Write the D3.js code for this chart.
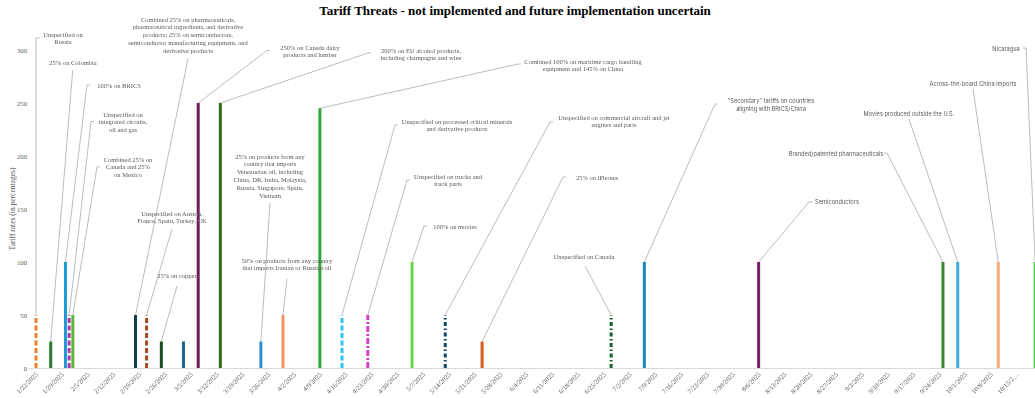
<!DOCTYPE html>
<html>
<head>
<meta charset="utf-8">
<script src="https://cdn.jsdelivr.net/npm/d3@7"></script>
<style>
  html, body { margin: 0; padding: 0; background: #fff; }
  svg { display: block; }
  .soft-text { opacity: 0.995; }
</style>
</head>
<body>
<svg id="chart" width="1035" height="398"></svg>
<script>
// Announcement date of each threatened tariff
const threatDates = [
  "2025-01-22", "2025-01-26", "2025-01-30", "2025-01-31", "2025-02-01",
  "2025-02-18", "2025-02-21", "2025-02-25", "2025-03-03", "2025-03-07",
  "2025-03-13", "2025-03-24", "2025-03-30", "2025-04-09", "2025-04-15",
  "2025-04-22", "2025-05-04", "2025-05-13", "2025-05-23", "2025-06-27",
  "2025-07-06", "2025-08-06", "2025-09-25", "2025-09-29", "2025-10-10",
  "2025-10-20"
];

// Threatened rate, in percent
const threatRates = [
  50, 25, 100, 50, 50,
  50, 50, 25, 25, 250,
  250, 25, 50, 245, 50,
  50, 100, 50, 25, 50,
  100, 100, 100, 100, 100,
  100
];

// Whether the rate was left unspecified (drawn dashed)
const threatUnspecified = [
  true, false, false, true, false,
  false, true, false, false, false,
  false, false, false, false, true,
  true, false, true, false, true,
  false, false, false, false, false,
  false
];

// Description of each threat, one entry per text line
const threatLabels = [
  ["Unspecified on", "Russia"],
  ["25% on Colombia"],
  ["100% on BRICS"],
  ["Unspecified on", "integrated circuits,", "oil and gas"],
  ["Combined 25% on", "Canada and 25%", "on Mexico"],
  ["Combined 25% on pharmaceuticals,", "pharmaceutical ingredients, and derivative",
   "products; 25% on semiconductors,", "semiconductor manufacturing equipment, and",
   "derivative products"],
  ["Unspecified on Austria,", "France, Spain, Turkey, UK"],
  ["25% on copper"],
  null,
  ["250% on Canada dairy", "products and lumber"],
  ["200% on EU alcohol products,", "including champagne and wine"],
  ["25% on products from any", "country that imports", "Venezuelan oil, including",
   "China, DR, India, Malaysia,", "Russia, Singapore, Spain,", "Vietnam"],
  ["50% on products from any country", "that imports Iranian or Russian oil"],
  ["Combined 100% on maritime cargo handling", "equipment and 145% on China"],
  ["Unspecified on processed critical minerals", "and derivative products"],
  ["Unspecified on trucks and", "truck parts"],
  ["100% on movies"],
  ["Unspecified on commercial aircraft and jet", "engines and parts"],
  ["25% on iPhones"],
  ["Unspecified on Canada"],
  ["\u201CSecondary\u201D tariffs on countries", "aligning with BRICS/China"],
  ["Semiconductors"],
  ["Branded/patented pharmaceuticals"],
  ["Movies produced outside the U.S."],
  ["Across-the-board China imports"],
  ["Nicaragua"]
];

// Y axis tick values
const rateTicks = [0, 50, 100, 150, 200, 250, 300];

// ---- styling ----
const barColors = [
  "#f07f2e", "#2c7a2c", "#1e9ad6", "#b335b0", "#5bb83a",
  "#113d4f", "#a44a1c", "#1d4d26", "#19688f", "#6b1d5e",
  "#2f6a1e", "#2a90c8", "#f29461", "#2fa83a", "#33c3f2",
  "#d43fc8", "#6dd24b", "#0e4465", "#d65a1d", "#11602a",
  "#1687c3", "#7b1f72", "#3a8a2a", "#3ea8e2", "#f6ab7f",
  "#3fd63f"
];
const dashStyles = {
  0: "5,2.5", 3: "5,2.5", 6: "5,2.5", 14: "5,2.5",
  15: "6,2,2,2", 17: "4,2.5,1.5,2.5", 19: "4,2.5,1.5,2.5"
};
// Label placement: centre x, first-line centre y, leader end (ex, ey), optional stub end sx
const labelPlacement = [
  {x: 63, y: 34, ex: 36, ey: 38, sx: 40},
  {x: 73, y: 62, ex: 72.7, ey: 70.5},
  {x: 119, y: 85, ex: 87, ey: 85, sx: 90},
  {x: 123, y: 114, ex: 91, ey: 121.5, sx: 94},
  {x: 128, y: 159, ex: 97, ey: 167, sx: 100},
  {x: 188, y: 19, ex: 188, ey: 59},
  {x: 172, y: 213, ex: 172, ey: 229},
  {x: 177, y: 275, ex: 177, ey: 286},
  null,
  {x: 310, y: 47, ex: 267, ey: 50.5, sx: 270},
  {x: 421, y: 50, ex: 368, ey: 53, sx: 371},
  {x: 270, y: 156, ex: 270, ey: 203},
  {x: 287, y: 260, ex: 287, ey: 279},
  {x: 583, y: 61, ex: 518, ey: 64, sx: 521},
  {x: 457, y: 121, ex: 395, ey: 125, sx: 398},
  {x: 448, y: 176, ex: 407, ey: 180, sx: 410},
  {x: 455, y: 226, ex: 424, ey: 226, sx: 427},
  {x: 614, y: 117, ex: 550, ey: 122, sx: 553},
  {x: 597, y: 177, ex: 563, ey: 177, sx: 566},
  {x: 584, y: 256, ex: 585, ey: 266},
  {x: 771, y: 100, ex: 715, ey: 104, sx: 718, sans: true},
  {x: 837, y: 201, ex: 809, ey: 202, sx: 813, sans: true},
  {x: 836, y: 153, ex: 887, ey: 153, sx: 884, sans: true},
  {x: 909, y: 113, ex: 909, ey: 119, sans: true},
  {x: 973, y: 83, ex: 973, ey: 89, sans: true},
  {x: 1006, y: 48, ex: 1026, ey: 48, sx: 1023, sans: true}
];

const SERIF = "'Liberation Serif', 'Times New Roman', serif";
const SANS = "Inter, Roboto, 'Noto Sans', sans-serif";
const TEXT_GRAY = "#595959";

const parseDate = d3.timeParse("%Y-%m-%d");
const fmtDate = d3.timeFormat("%-m/%-d/%Y");

const svg = d3.select("#chart");

// Scales: ~3.69 px per day, from Jan 20 onwards
const dayPx = 3.687;
const x0 = new Date(2025, 0, 20), x1 = new Date(2025, 9, 21);
const x = d3.scaleTime()
  .domain([x0, x1])
  .range([28.6, 28.6 + d3.timeDay.count(x0, x1) * dayPx]);
const y = d3.scaleLinear().domain([0, 300]).range([368, 50]);

// Title
svg.append("text")
  .attr("x", 515).attr("y", 15)
  .attr("text-anchor", "middle")
  .style("font-family", SERIF)
  .style("font-weight", "bold")
  .style("font-size", "13px")
  .attr("fill", "#000")
  .text("Tariff Threats - not implemented and future implementation uncertain");

// Y axis
const yAxis = svg.append("g")
  .attr("class", "soft-text")
  .attr("transform", "translate(30,0)")
  .call(d3.axisLeft(y).tickValues(rateTicks).tickSize(0).tickPadding(3));
yAxis.select(".domain").remove();
yAxis.selectAll("text")
  .style("font-family", SERIF).style("font-size", "6.7px").attr("fill", TEXT_GRAY);

svg.append("text")
  .attr("class", "soft-text")
  .attr("transform", "translate(12,209) rotate(-90)")
  .attr("text-anchor", "middle")
  .attr("dominant-baseline", "central")
  .style("font-family", SERIF).style("font-size", "7.5px")
  .attr("fill", TEXT_GRAY)
  .text("Tariff rates (in percentages)");

// X axis: weekly ticks starting Jan 22
const weekTicks = d3.range(0, 39).map(i => d3.timeDay.offset(new Date(2025, 0, 22), i * 7));
const xAxis = svg.append("g")
  .attr("class", "soft-text")
  .attr("transform", `translate(0,${y(0)})`)
  .call(d3.axisBottom(x).tickValues(weekTicks).tickSize(0).tickPadding(0)
    .tickFormat((d, i) => i === weekTicks.length - 1 ? fmtDate(d).slice(0, 7) + "\u2026" : fmtDate(d)));
xAxis.select(".domain").attr("stroke", "#d9d9d9").attr("stroke-width", 1);
xAxis.selectAll(".tick text")
  .attr("y", 0).attr("dy", 0)
  .attr("text-anchor", "end")
  .attr("transform", "translate(2,7) rotate(-45)")
  .style("font-family", SERIF).style("font-size", "6.7px").attr("fill", TEXT_GRAY);

// Records
const threats = threatDates.map((d, i) => ({
  date: parseDate(d),
  rate: threatRates[i],
  unspecified: threatUnspecified[i],
  label: threatLabels[i],
  color: barColors[i],
  dash: threatUnspecified[i] ? (dashStyles[i] || "5,2.5") : null,
  place: labelPlacement[i]
}));

// Leader lines (drawn under bars)
const leaders = svg.append("g").attr("fill", "none")
  .attr("stroke", "#a6a6a6").attr("stroke-width", 0.75);
threats.filter(t => t.label && t.place).forEach(t => {
  const p = t.place;
  const pts = [[x(t.date), y(t.rate)], [p.ex, p.ey]];
  if (p.sx != null) pts.push([p.sx, p.ey]);
  leaders.append("path").attr("d", d3.line()(pts));
});

// Bars as thick vertical strokes
svg.append("g").selectAll("line")
  .data(threats)
  .join("line")
  .attr("x1", d => x(d.date)).attr("x2", d => x(d.date))
  .attr("y1", y(0)).attr("y2", d => y(d.rate))
  .attr("stroke", d => d.color)
  .attr("stroke-width", 3)
  .attr("stroke-dasharray", d => d.dash);

// Labels
const labelsG = svg.append("g").attr("class", "soft-text");
threats.filter(t => t.label && t.place).forEach(t => {
  const p = t.place;
  const lh = p.sans ? 8 : 7.8;
  const txt = labelsG.append("text")
    .attr("text-anchor", "middle")
    .style("font-family", p.sans ? SANS : SERIF)
    .style("font-size", p.sans ? "5.7px" : "6.5px")
    .attr("fill", TEXT_GRAY);
  t.label.forEach((line, k) => {
    txt.append("tspan")
      .attr("x", p.x).attr("y", p.y + k * lh)
      .attr("dominant-baseline", "central")
      .text(line);
  });
});
</script>
</body>
</html>
